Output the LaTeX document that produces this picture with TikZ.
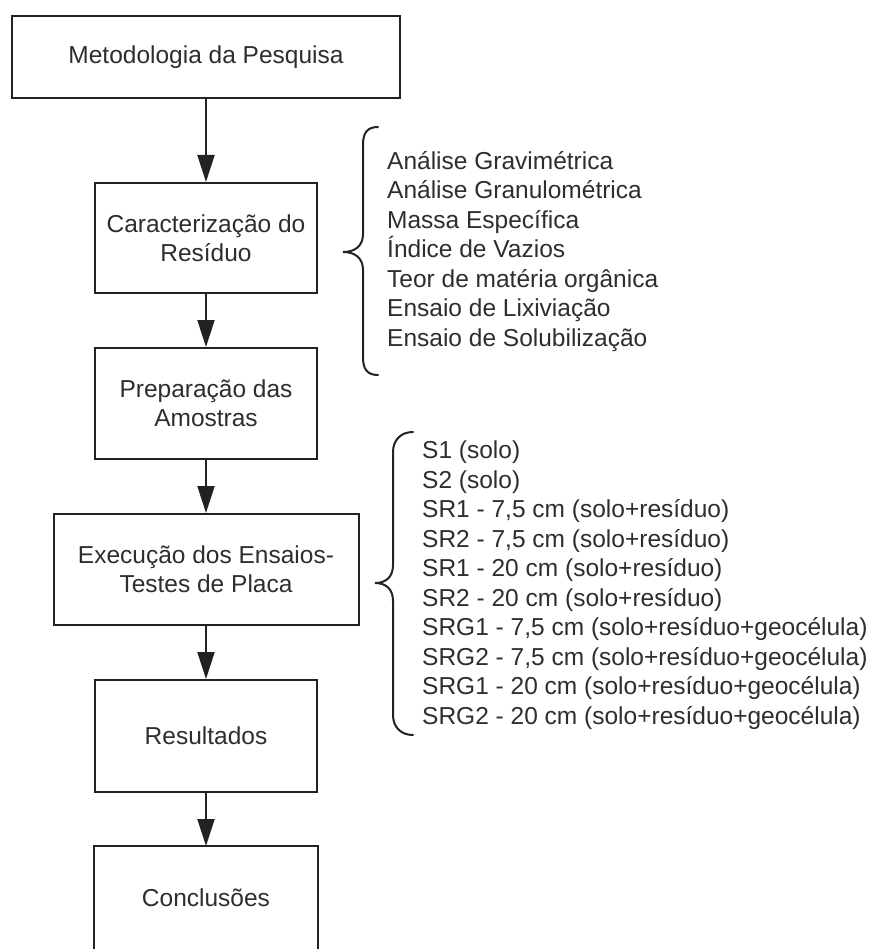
\documentclass[tikz,border=0pt]{standalone}
\usepackage{fontspec}
\setmainfont{Liberation Sans}
\usetikzlibrary{arrows.meta}
\definecolor{ink}{HTML}{222222}
\definecolor{txt}{HTML}{2E2E2E}
\begin{document}
\begin{tikzpicture}[x=1pt,y=-1pt,
  boxst/.style={draw=ink,line width=2pt,minimum width=222pt,minimum height=111pt,inner sep=0pt,
    align=center,text=txt,font=\fontsize{24.5}{29}\selectfont},
  arr/.style={draw=ink,line width=2pt,-{Triangle[length=27pt,width=17pt]}},
  brc/.style={draw=ink,line width=2pt,line cap=round},
  lst/.style={anchor=west,inner sep=0pt,align=left,text=txt,font=\fontsize{24.5}{29.5}\selectfont}]
\useasboundingbox (0,0) rectangle (874,952);
\fill[white] (0,0) rectangle (874,952);
\node[boxst,minimum width=388pt,minimum height=82pt] (b1) at (206,57) {Metodologia da Pesquisa};
\node[boxst,minimum height=110pt] (b2) at (206,238) {Caracterização do\\Resíduo};
\node[boxst] (b3) at (206,403.5) {Preparação das\\Amostras};
\node[boxst,minimum width=305pt] (b4) at (206,569.5) {Execução dos Ensaios-\\Testes de Placa};
\node[boxst,minimum height=112pt] (b5) at (206,736) {Resultados};
\node[boxst,draw=none,minimum height=101pt] (b6) at (206,897.5) {Conclusões};
\draw[ink,line width=2pt] (b6.south west) -- (b6.north west) -- (b6.north east) -- (b6.south east);
\draw[arr] (b1.south) -- (b2.north);
\draw[arr] (b2.south) -- (b3.north);
\draw[arr] (b3.south) -- (b4.north);
\draw[arr] (b4.south) -- (b5.north);
\draw[arr] (b5.south) -- (b6.north);
% brace 1
\draw[brc] (378,127) .. controls (367,127) and (363,133) .. (363,145) -- (363,234)
  .. controls (363,246) and (355,252) .. (343,252)
  .. controls (355,252) and (363,258) .. (363,270) -- (363,357)
  .. controls (363,369) and (367,375) .. (378,375);
\node[lst] (l1) at (387,251.5) {Análise Gravimétrica\\Análise Granulométrica\\Massa Específica\\Índice de Vazios\\Teor de matéria orgânica\\Ensaio de Lixiviação\\Ensaio de Solubilização};
% brace 2
\draw[brc] (413,432) .. controls (401,432) and (393,440) .. (393,452) -- (393,565)
  .. controls (393,577) and (386,583) .. (375,583)
  .. controls (386,583) and (393,589) .. (393,601) -- (393,715)
  .. controls (393,727) and (401,735) .. (413,735);
\node[lst] (l2) at (422,585) {S1 (solo)\\S2 (solo)\\SR1 - 7,5 cm (solo+resíduo)\\SR2 - 7,5 cm (solo+resíduo)\\SR1 - 20 cm (solo+resíduo)\\SR2 - 20 cm (solo+resíduo)\\SRG1 - 7,5 cm (solo+resíduo+geocélula)\\SRG2 - 7,5 cm (solo+resíduo+geocélula)\\SRG1 - 20 cm (solo+resíduo+geocélula)\\SRG2 - 20 cm (solo+resíduo+geocélula)};
\end{tikzpicture}
\end{document}
